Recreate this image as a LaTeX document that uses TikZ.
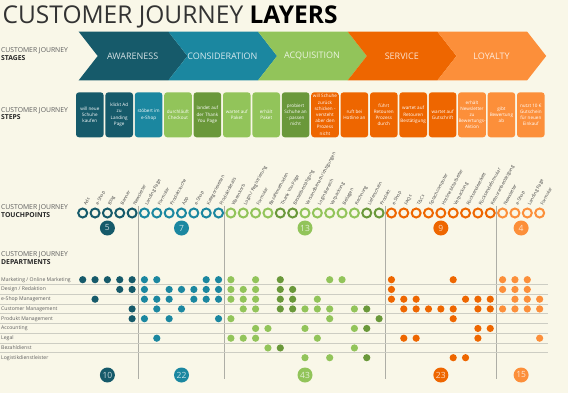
\documentclass[tikz,border=0pt]{standalone}
\usepackage{fontspec}
\setmainfont{Open Sans}
\usepackage{tikz}
\usetikzlibrary{positioning,calc}

\definecolor{bgcream}{RGB}{249,247,232}
\definecolor{awcol}{RGB}{22,90,106}
\definecolor{cocol}{RGB}{27,135,160}
\definecolor{accol}{RGB}{146,196,90}
\definecolor{acdark}{RGB}{106,152,58}
\definecolor{secol}{RGB}{238,102,0}
\definecolor{locol}{RGB}{252,143,58}
\definecolor{gridgray}{RGB}{205,205,195}
\definecolor{labgray}{RGB}{95,95,95}

% colour of a touchpoint column
\newcommand\stagecolor[1]{%
  \ifnum#1<5 \def\dotcol{awcol}\else
  \ifnum#1<12 \def\dotcol{cocol}\else
  \ifnum#1<25 \def\dotcol{accol}\else
  \ifnum#1<34 \def\dotcol{secol}\else
  \def\dotcol{locol}\fi\fi\fi\fi
  \ifnum#1=16 \def\dotcol{acdark}\fi
  \ifnum#1=17 \def\dotcol{acdark}\fi
  \ifnum#1=23 \def\dotcol{acdark}\fi
  \ifnum#1=24 \def\dotcol{acdark}\fi}

\begin{document}
\begin{tikzpicture}[x=1pt,y=-1pt,
  lbltop/.style={anchor=west,inner sep=0pt,text=labgray,font=\fontsize{6.8}{7}\selectfont},
  lblbot/.style={anchor=north west,inner sep=0pt,text=black!85,font=\fontsize{6.8}{7}\selectfont\bfseries},
  stagetext/.style={inner sep=0pt,font=\fontsize{9}{9}\selectfont},
  stepbox/.style={rounded corners=3pt,minimum width=27.6pt,minimum height=45pt,inner sep=0.5pt,
    align=center,text=white,font=\fontsize{4.6}{6.2}\selectfont},
  tpring/.style={circle,line width=2pt,fill=bgcream,minimum size=9pt,inner sep=0pt},
  tplabel/.style={anchor=west,rotate=62,inner sep=0pt,text=black!75,font=\fontsize{4.5}{5}\selectfont},
  countdot/.style={circle,minimum size=15pt,inner sep=0pt,font=\fontsize{8.5}{8.5}\selectfont},
  deptlabel/.style={anchor=west,inner sep=0pt,text=labgray,font=\fontsize{5.1}{6}\selectfont},
  gridline/.style={draw=gridgray,line width=0.7pt}]

  \useasboundingbox (0,0) rectangle (568,405);
  \fill[bgcream] (0,0) rectangle (568,393);
  \fill[white] (0,393) rectangle (568,405);

  \node[anchor=base west,inner sep=0pt,text=black!80,font=\fontsize{24.5}{25}\selectfont] (title)
    at (2.5,23.5) {CUSTOMER JOURNEY \textbf{\color{black}LAYERS}};

  % left labels
  \node[lbltop] (lbl-stages) at (1,50.7) {CUSTOMER JOURNEY};
  \node[lblbot,below=1pt of lbl-stages.south west,anchor=north west] (lbl-stages2) {STAGES};
  \node[lbltop] (lbl-steps) at (1,110.3) {CUSTOMER JOURNEY};
  \node[lblbot,below=1pt of lbl-steps.south west,anchor=north west] (lbl-steps2) {STEPS};
  \node[lbltop] (lbl-tp) at (1,207.7) {CUSTOMER JOURNEY};
  \node[lblbot,below=1pt of lbl-tp.south west,anchor=north west] (lbl-tp2) {TOUCHPOINTS};
  \node[lbltop] (lbl-dep) at (1,255) {CUSTOMER JOURNEY};
  \node[lblbot,below=1pt of lbl-dep.south west,anchor=north west] (lbl-dep2) {DEPARTMENTS};

  % stages
  \foreach \nm/\c [count=\k from 0] in {AWARENESS/awcol,CONSIDERATION/cocol,ACQUISITION/accol,SERVICE/secol,LOYALTY/locol}{
    \pgfmathsetmacro\xa{78.7+89.7*\k}
    \fill[\c] (\xa,31.7) -- ++(89.7,0) -- ++(19,24.3) -- ++(-19,24.3) -- ++(-89.7,0) -- ++(19,-24.3) -- cycle;
    \node[stagetext,text=white!82!\c] (stage-\k) at (\xa+54,56) {\nm};
  }

  % steps
  \foreach \txt/\c [count=\k from 0] in {
    {will neue\\Schuhe\\kaufen}/awcol,
    {klickt Ad\\zu\\Landing\\Page}/awcol,
    {stöbert im\\e-Shop}/cocol,
    {durchläuft\\Checkout}/accol,
    {landet auf\\der Thank\\You Page}/acdark,
    {wartet auf\\Paket}/accol,
    {erhält\\Paket}/accol,
    {probiert\\Schuhe an\\- passen\\nicht}/acdark,
    {will Schuhe\\zurück\\schicken -\\versteht\\aber den\\Prozess\\nicht}/secol,
    {ruft bei\\Hotline an}/secol,
    {führt\\Retouren\\Prozess\\durch}/secol,
    {wartet auf\\Retouren\\Bestätigung}/secol,
    {wartet auf\\Gutschrift}/secol,
    {erhält\\Newsletter\\zu\\Bewertungs-\\Aktion}/locol,
    {gibt\\Bewertung\\ab}/locol,
    {nutzt 10 €\\Gutschein\\für neuen\\Einkauf}/locol}
    \node[stepbox,fill=\c] (step-\k) at (89.8+29.4*\k,114.8) {\txt};

  % stage dividers
  \foreach \m [count=\j] in {4.5,11.5,24.5,33.5}
    \draw[gridgray!85!black,line width=0.8pt] (82.7+12.35*\m,206) -- (82.7+12.35*\m,379);

  % touchpoints
  \foreach \lab [count=\i from 0] in {Ads,e-Shop,Blog,Banner,Newsletter,
      Landing Page,Formular,Produktsuche,App,e-Shop,Kategorieseiten,Produktdetails,
      Warenkorb,{Login / Registrierung},Formular,Bezahlmethoden,Thank You Page,Bestellbestätigung,
      Versandbenachrichtigungen,Login Bereich,Verpackung,Beilagen,Rechnung,Lieferschein,Produkt,
      e-Shop,FAQs,T\&Cs,Sprachcomputer,Hotline Mitarbeiter,Verpackung,Rücksendeetikett,
      Rücksendeformular,Retourenbestätigung,
      Newsletter,e-Shop,Landing Page,Formular}{
    \stagecolor{\i}
    \node[tpring,draw=\dotcol] (tp-\i) at (82.7+12.35*\i,213) {};
    \node[tplabel] (tpl-\i) at ([xshift=2pt,yshift=2.5pt]tp-\i.north) {\lab};
  }

  % counts
  \foreach \m/\top/\bot/\c [count=\k from 0] in {2/5/10/awcol,8/7/22/cocol,18/13/43/accol,29/9/23/secol,35.5/4/15/locol}{
    \node[countdot,fill=\c,text=white!75!\c] (cnt-\k) at (82.7+12.35*\m,228) {\top};
    \node[countdot,fill=\c,text=white!75!\c] (sum-\k) at (82.7+12.35*\m,375) {\bot};
  }

  % departments
  \foreach \r in {0,...,7}
    \draw[gridline] (0,284.5+9.75*\r) -- (548,284.5+9.75*\r);
  \foreach \dep [count=\r from 0] in {Marketing / Online Marketing,Design / Redaktion,e-Shop Management,
      Customer Management,Produkt Management,Accounting,Legal,Bezahldienst,Logistikdienstleister}
    \node[deptlabel] (dept-\r) at (1,279.7+9.75*\r) {\dep};

  \foreach \r/\cols in {
      0/{0,1,2,3,4,5,6,10,11,12,14,16,20,21,25,30,34,35,36},
      1/{3,4,5,7,8,9,10,11,12,13,14,16,17,25,34,35,36},
      2/{1,5,6,7,9,10,11,12,13,14,16,17,19,25,26,27,31,32,33,35,36,37},
      3/{4,6,8,13,14,16,17,18,19,20,22,23,26,27,28,29,30,32,33,34,35,36,37},
      4/{4,5,7,11,12,20,24,30},
      5/{14,15,18,22,23,32,33},
      6/{6,12,13,14,19,26,27,32,37},
      7/{15,16,22},
      8/{18,20,23,30,31}}
    \foreach \c in \cols {
      \stagecolor{\c}
      \fill[\dotcol] (82.7+12.35*\c,279.7+9.75*\r) circle (3.6pt);
    }
\end{tikzpicture}
\end{document}
